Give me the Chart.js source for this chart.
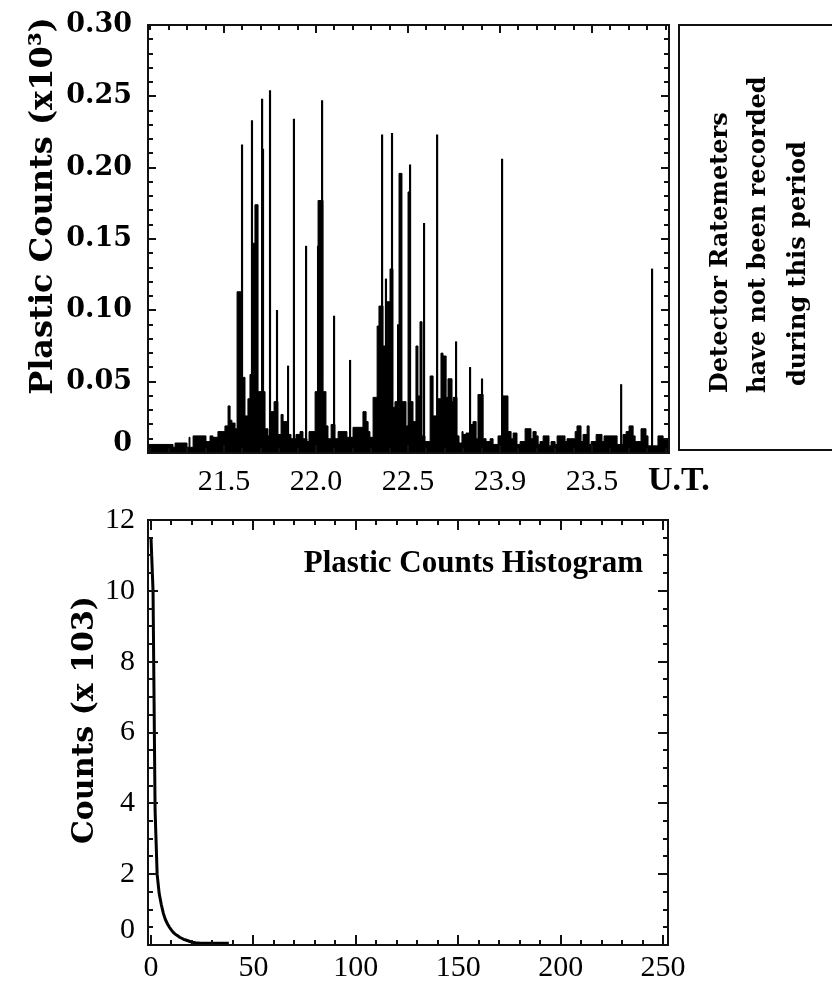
<!DOCTYPE html>
<html>
<head>
<meta charset="utf-8">
<script src="https://cdn.jsdelivr.net/npm/chart.js@4.4.1/dist/chart.umd.min.js"></script>
<style>
body{margin:0;background:#fff;width:832px;height:981px;overflow:hidden;position:relative}
#topBox{position:absolute;left:0;top:0;width:832px;height:500px}
#botBox{position:absolute;left:0;top:500px;width:832px;height:481px}
</style>
</head>
<body>
<div id="topBox"><canvas id="rateChart"></canvas></div>
<div id="botBox"><canvas id="histChart"></canvas></div>
<script>
// RATE DATA (U.T. hours, counts x10^3)
// background level, each value held until the next time
const envTimes = [
  21.087,21.223,21.234,21.299,21.310,21.315,21.332,21.402,21.424,21.440,
  21.467,21.505,21.522,21.533,21.543,21.560,21.571,21.598,21.614,21.630,
  21.641,21.652,21.668,21.685,21.723,21.739,21.755,21.772,21.793,21.810,
  21.821,21.848,21.864,21.891,21.913,21.929,21.951,21.962,21.995,22.011,
  22.038,22.054,22.065,22.082,22.103,22.120,22.168,22.201,22.255,22.272,
  22.283,22.293,22.310,22.332,22.342,22.364,22.386,22.402,22.418,22.429,
  22.451,22.467,22.489,22.500,22.511,22.527,22.543,22.554,22.565,22.576,
  22.592,22.620,22.636,22.663,22.679,22.690,22.707,22.717,22.739,22.745,
  22.766,22.777,22.793,22.799,22.815,22.842,22.853,22.870,22.880,22.908,
  22.924,22.946,22.962,22.989,23.016,23.043,23.060,23.071,23.092,23.109,
  23.136,23.168,23.179,23.196,23.207,23.217,23.234,23.266,23.277,23.299,
  23.310,23.353,23.364,23.408,23.418,23.440,23.451,23.473,23.484,23.495,
  23.522,23.554,23.565,23.636,23.668,23.685,23.701,23.723,23.734,23.766,
  23.793,23.804,23.858,23.886,23.913,23.918
];
const envCounts = [
  0.004,0.006,0.004,0.007,0.004,0.011,0.004,0.012,0.008,0.012,
  0.011,0.015,0.019,0.033,0.023,0.021,0.017,0.113,0.053,0.026,
  0.038,0.055,0.147,0.174,0.043,0.017,0.012,0.029,0.036,0.013,
  0.027,0.022,0.013,0.010,0.013,0.015,0.010,0.008,0.015,0.043,
  0.177,0.043,0.019,0.010,0.020,0.010,0.015,0.011,0.018,0.029,
  0.022,0.015,0.011,0.039,0.089,0.103,0.075,0.106,0.129,0.032,
  0.036,0.196,0.036,0.019,0.183,0.036,0.022,0.075,0.040,0.092,
  0.012,0.008,0.054,0.026,0.038,0.070,0.068,0.039,0.052,0.036,
  0.039,0.012,0.007,0.015,0.013,0.014,0.020,0.022,0.010,0.041,
  0.010,0.008,0.010,0.006,0.012,0.040,0.015,0.010,0.014,0.006,
  0.008,0.017,0.010,0.015,0.012,0.006,0.008,0.012,0.005,0.008,
  0.006,0.012,0.008,0.010,0.015,0.019,0.008,0.013,0.019,0.006,
  0.008,0.013,0.008,0.012,0.006,0.013,0.015,0.019,0.012,0.008,
  0.017,0.012,0.005,0.012,0.010,0.010
];
// single-sample spikes
const spikeTimes = [21.598,21.652,21.707,21.712,21.750,21.788,21.848,21.880,21.946,22.011,22.033,22.098,22.185,
                    22.359,22.380,22.413,22.446,22.511,22.587,22.658,22.761,22.837,22.902,23.011,23.658,23.826];
const spikeCounts = [0.216,0.233,0.248,0.213,0.254,0.100,0.061,0.234,0.145,0.145,0.247,0.096,0.065,
                     0.223,0.122,0.224,0.090,0.202,0.161,0.223,0.078,0.060,0.052,0.206,0.048,0.129];
const rateXTicks = [21.5,22.0,22.5,23.0,23.5];
const rateXLabels = ['21.5','22.0','22.5','23.9','23.5'];
const rateYTicks = [0,0.05,0.10,0.15,0.20,0.25,0.30];
const rateYLabels = ['0','0.05','0.10','0.15','0.20','0.25','0.30'];

// HISTOGRAM DATA (plastic counts, counts x10^3)
const histBins = [0,1,2,3,4,5,6,7,8,9,10,11,12,13,14,15,16,17,18,19,20,21,22,23,24,25,26,27,28,29,30,31,32,33,34,35,36,37,38];
const histCounts = [11.5,10.0,3.8,2.0,1.45,1.15,0.9,0.72,0.6,0.5,
                    0.42,0.35,0.3,0.26,0.22,0.19,0.16,0.14,0.12,0.1,
                    0.08,0.07,0.06,0.06,0.05,0.05,0.05,0.05,0.05,0.05,
                    0.05,0.05,0.05,0.05,0.05,0.05,0.05,0.05,0.05];
const histXTicks = [0,50,100,150,200,250];
const histYTicks = [0,2,4,6,8,10,12];

// tick marks list {v, major}
function tickList(from,to,step,majorStep){
  const out=[];
  const n=Math.round((to-from)/step);
  for(let k=0;k<=n;k++){
    const v=from+k*step;
    const r=v/majorStep;
    out.push({v, major:Math.abs(r-Math.round(r))<1e-6});
  }
  return out;
}

// frame + inward ticks on all four sides
function frameTicks(xt,yt,major,minor){
  return {
    id:'frameTicks',
    afterDatasetsDraw(chart){
      const {ctx, chartArea:a, scales:{x,y}} = chart;
      ctx.save();
      ctx.strokeStyle='#111';
      ctx.lineWidth=2;
      ctx.beginPath();
      xt.forEach(t=>{
        const p=Math.round(x.getPixelForValue(t.v)), len=t.major?major:minor;
        ctx.moveTo(p,a.top); ctx.lineTo(p,a.top+len);
        ctx.moveTo(p,a.bottom); ctx.lineTo(p,a.bottom-len);
      });
      yt.forEach(t=>{
        const p=Math.round(y.getPixelForValue(t.v)), len=t.major?major:minor;
        ctx.moveTo(a.left,p); ctx.lineTo(a.left+len,p);
        ctx.moveTo(a.right,p); ctx.lineTo(a.right-len,p);
      });
      ctx.stroke();
      ctx.strokeRect(a.left,a.top,a.width,a.height);
      ctx.restore();
    }
  };
}

// free text (titles, notes)
function notes(items,box){
  return {
    id:'notes',
    afterDraw(chart){
      const ctx=chart.ctx;
      items.forEach(t=>{
        ctx.save();
        ctx.font=t.font; ctx.fillStyle='#000';
        ctx.textAlign=t.align||'left'; ctx.textBaseline='alphabetic';
        ctx.translate(t.x,t.y);
        if(t.rot) ctx.rotate(-Math.PI/2);
        ctx.fillText(t.text,0,0);
        ctx.restore();
      });
      if(box){
        ctx.save(); ctx.strokeStyle='#111'; ctx.lineWidth=2;
        ctx.strokeRect(box[0],box[1],box[2],box[3]);
        ctx.restore();
      }
    }
  };
}

Chart.defaults.color='#000';
Chart.defaults.animation=false;

const boldY = {family:'DejaVu Serif', size:27, weight:'bold', lineHeight:0.68};
const plainTimes = {family:'Liberation Serif', size:30};

// TOP: RATEMETER
new Chart(document.getElementById('rateChart'),{
  type:'line',
  data:{datasets:[
    {type:'line', data:envTimes.map((t,i)=>({x:t,y:envCounts[i]})), stepped:'after',
     borderColor:'#000', borderWidth:1, backgroundColor:'#000', fill:'origin', pointRadius:0},
    {type:'bar', data:spikeTimes.map((t,i)=>({x:t,y:spikeCounts[i]})),
     backgroundColor:'#000', barThickness:1.5, borderWidth:0}
  ]},
  options:{
    responsive:true, maintainAspectRatio:false,
    layout:{padding:{left:0,top:25,right:163,bottom:0}},
    plugins:{legend:{display:false}, tooltip:{enabled:false}},
    scales:{
      x:{type:'linear', min:21.087, max:23.918, offset:false,
         grid:{display:false}, border:{display:false},
         afterFit:s=>{s.height=47;},
         afterBuildTicks:s=>{s.ticks=rateXTicks.map(v=>({value:v}));},
         ticks:{autoSkip:false, maxRotation:0, padding:3, font:plainTimes,
                callback:(v,i)=>rateXLabels[i]}},
      y:{min:0, max:0.30, grid:{display:false}, border:{display:false},
         afterFit:s=>{s.width=148;},
         afterBuildTicks:s=>{s.ticks=rateYTicks.map(v=>({value:v}));},
         ticks:{autoSkip:false, padding:8, font:boldY,
                callback:(v,i)=>i===0?[rateYLabels[i],'']:rateYLabels[i]}}
    }
  },
  plugins:[
    frameTicks(tickList(21.1,23.9,0.1,0.5), tickList(0.01,0.29,0.01,0.05), 8, 5),
    notes([
      {text:'Plastic Counts (x10³)', x:52, y:206, rot:true, align:'center', font:'bold 32px "DejaVu Serif"'},
      {text:'U.T.', x:648, y:490, font:'bold 34px "Liberation Serif"'},
      {text:'Detector Ratemeters', x:727, y:393, rot:true, font:'bold 24px "DejaVu Serif"'},
      {text:'have not been recorded', x:765, y:393, rot:true, font:'bold 24px "DejaVu Serif"'},
      {text:'during this period', x:805, y:386, rot:true, font:'bold 24px "DejaVu Serif"'}
    ],[679,25,200,425])
  ]
});

// BOTTOM: HISTOGRAM
new Chart(document.getElementById('histChart'),{
  type:'line',
  data:{datasets:[
    {data:histBins.map((b,i)=>({x:b,y:histCounts[i]})), borderColor:'#000', borderWidth:3,
     pointRadius:0, tension:0, fill:false}
  ]},
  options:{
    responsive:true, maintainAspectRatio:false,
    layout:{padding:{left:0,top:18,right:164,bottom:0}},
    plugins:{legend:{display:false}, tooltip:{enabled:false}},
    scales:{
      x:{type:'linear', min:-1.46, max:252.4, grid:{display:false}, border:{display:false},
         afterFit:s=>{s.height=36;},
         afterBuildTicks:s=>{s.ticks=histXTicks.map(v=>({value:v}));},
         ticks:{autoSkip:false, maxRotation:0, padding:3, font:{family:'Liberation Serif', size:30, lineHeight:0.8}}},
      y:{min:0, max:12, grid:{display:false}, border:{display:false},
         afterFit:s=>{s.width=148;},
         afterBuildTicks:s=>{s.ticks=histYTicks.map(v=>({value:v}));},
         ticks:{autoSkip:false, padding:5, font:{family:'Liberation Serif', size:30, lineHeight:1.0},
                callback:v=>v===0?['0','']:String(v)}}
    }
  },
  plugins:[
    frameTicks(tickList(0,250,10,50), tickList(0.5,11.5,0.5,2), 10, 5),
    notes([
      {text:'Counts (x 103)', x:93, y:220, rot:true, align:'center', font:'bold 30px "DejaVu Serif"'},
      {text:'Plastic Counts Histogram', x:643, y:72, align:'right', font:'bold 31px "Liberation Serif"'}
    ])
  ]
});
</script>
</body>
</html>
